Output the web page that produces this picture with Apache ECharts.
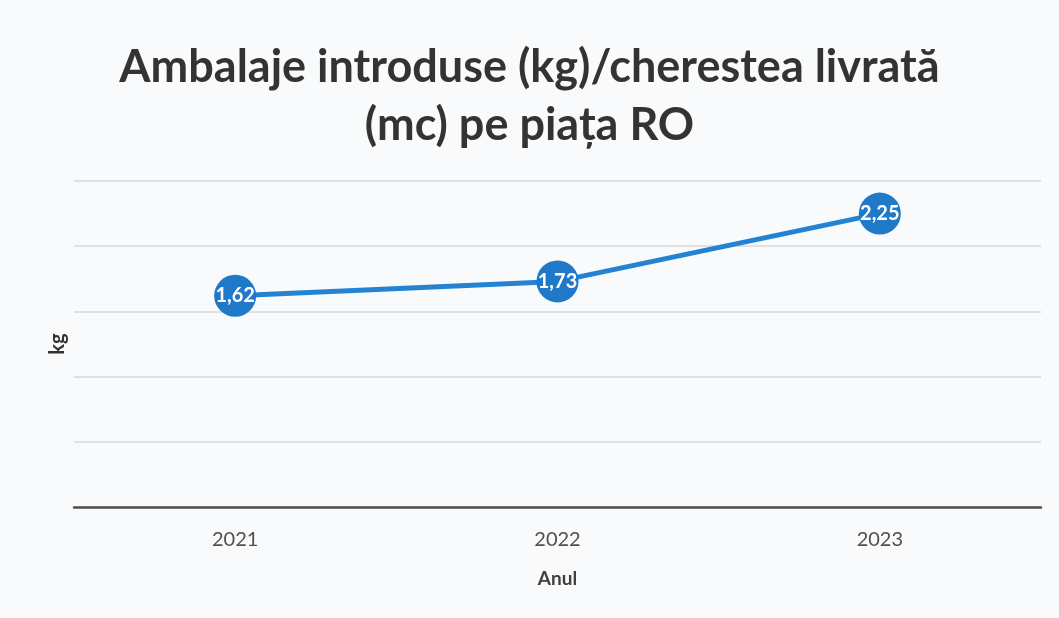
<!DOCTYPE html>
<html>
<head>
<meta charset="utf-8">
<script src="https://cdn.jsdelivr.net/npm/echarts@6/dist/echarts.min.js"></script>
<style>
  html, body { margin: 0; padding: 0; background: #f8fafb; }
  #chart { width: 1059px; height: 618px; }
</style>
</head>
<body>
<div id="chart"></div>
<script>
const years = ["2021", "2022", "2023"];
const kgPerMc = [1.62, 1.73, 2.25];

const chart = echarts.init(document.getElementById("chart"));

const option = {
  backgroundColor: "#f8fafb",
  title: {
    text: "Ambalaje introduse (kg)/cherestea livrată\n(mc) pe piața RO",
    left: "center",
    top: 38,
    padding: [0, 0, 0, 28],
    textStyle: {
      fontFamily: "Lato",
      fontWeight: "bold",
      fontSize: 45,
      lineHeight: 58,
      color: "#333333",
    },
  },
  grid: { left: 74, right: 18, top: 181, bottom: 111 },
  xAxis: {
    type: "category",
    data: years,
    boundaryGap: true,
    name: "Anul",
    nameLocation: "middle",
    nameGap: 62,
    nameTextStyle: {
      fontFamily: "Lato",
      fontWeight: "bold",
      fontSize: 19,
      color: "#404040",
    },
    axisLine: { lineStyle: { color: "#505050", width: 2.5 } },
    axisTick: { show: false },
    axisLabel: {
      margin: 23,
      fontFamily: "Lato",
      fontSize: 20,
      color: "#505050",
    },
  },
  yAxis: {
    type: "value",
    min: 0,
    max: 2.5,
    interval: 0.5,
    name: "kg",
    nameLocation: "middle",
    nameGap: 6,
    nameRotate: 90,
    nameTextStyle: {
      fontFamily: "Lato",
      fontWeight: "bold",
      fontSize: 20,
      color: "#333333",
    },
    axisLine: { show: false },
    axisTick: { show: false },
    axisLabel: { show: false },
    splitLine: { lineStyle: { color: "#d6d9dc", width: 1.5 } },
  },
  series: [
    {
      type: "line",
      data: kgPerMc,
      symbol: "circle",
      symbolSize: 42,
      lineStyle: { color: "#2382d2", width: 5 },
      itemStyle: { color: "#1f78c8" },
      label: {
        show: true,
        position: "inside",
        formatter: (p) => p.value.toFixed(2).replace(".", ","),
        fontFamily: "Lato",
        fontWeight: "bold",
        fontSize: 20,
        color: "#ffffff",
      },
      z: 3,
    },
  ],
};

chart.setOption(option);
</script>
</body>
</html>
